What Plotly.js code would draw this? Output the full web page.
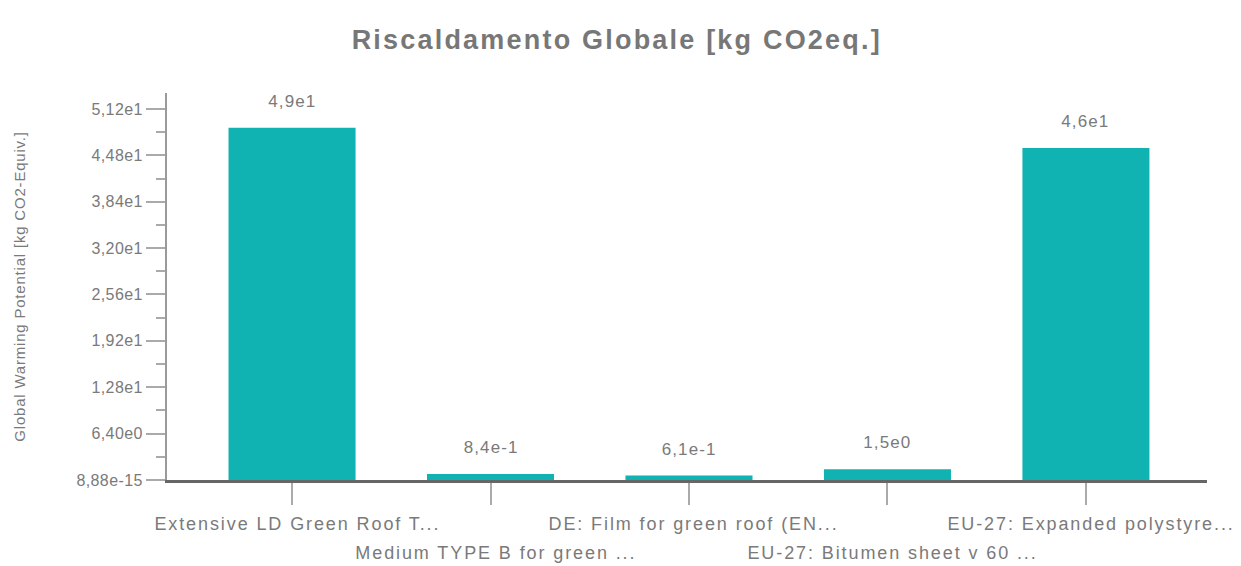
<!DOCTYPE html>
<html>
<head>
<meta charset="utf-8">
<script src="https://cdn.plot.ly/plotly-3.0.1.min.js"></script>
<style>
  html, body { margin: 0; padding: 0; background: #ffffff; }
  #chart { width: 1241px; height: 566px; }
  #chart .gtitle { letter-spacing: 2.2px; }
  #chart .annotation-text { letter-spacing: 1.1px; }
  #chart .cat-label .annotation-text { letter-spacing: 1.9px; }
  #chart .g-ytitle text { letter-spacing: 0.8px; }
  #chart .ytick text { letter-spacing: 0.4px; }
</style>
</head>
<body>
<div id="chart"></div>
<script>
// ---- data ----
var categories = [
  "Extensive LD Green Roof T...",
  "Medium TYPE B for green ...",
  "DE: Film for green roof (EN...",
  "EU-27: Bitumen sheet v 60 ...",
  "EU-27: Expanded polystyre..."
];
var values = [48.6, 0.84, 0.61, 1.5, 45.8];
var yTickVals = [0, 6.4, 12.8, 19.2, 25.6, 32.0, 38.4, 44.8, 51.2];
var yTickText = ["8,88e-15", "6,40e0", "1,28e1", "1,92e1", "2,56e1", "3,20e1", "3,84e1", "4,48e1", "5,12e1"];
var titleText = "Riscaldamento Globale [kg CO2eq.]";
var yTitleText = "Global Warming Potential [kg CO2-Equiv.]";

function fmt(v) {
  var s = v.toExponential(1);           // e.g. "4.9e+1"
  var parts = s.split("e");
  var exp = parseInt(parts[1], 10);
  return parts[0].replace(".", ",") + "e" + exp;
}

var fam = "Liberation Sans, Arial, sans-serif";
var grey = "#7a7a7a";

var annotations = [];
// value labels above bars
for (var i = 0; i < categories.length; i++) {
  annotations.push({
    xref: "x", yref: "y", x: categories[i], y: values[i],
    text: fmt(values[i]), showarrow: false,
    yanchor: "bottom", yshift: 15,
    font: { family: fam, size: 17, color: grey }
  });
}
var nValueLabels = annotations.length;
// staggered category labels
for (var j = 0; j < categories.length; j++) {
  annotations.push({
    xref: "x", yref: "paper", x: categories[j], y: 0,
    text: categories[j], showarrow: false,
    yanchor: "top", yshift: (j % 2 === 0) ? -32 : -61, xshift: 5,
    font: { family: fam, size: 18, color: grey }
  });
}

var trace = {
  type: "bar",
  x: categories,
  y: values,
  marker: { color: "#10b2b2" },
  hoverinfo: "x+y"
};

var layout = {
  width: 1241, height: 566,
  paper_bgcolor: "#ffffff", plot_bgcolor: "#ffffff",
  margin: { l: 167, r: 34, t: 93, b: 86 },
  bargap: 0.36,
  showlegend: false,
  title: {
    text: "<b>" + titleText + "</b>",
    xref: "container", x: 0.497, xanchor: "center",
    yref: "container", y: 0.93, yanchor: "middle",
    font: { family: fam, size: 27, color: "#777777" }
  },
  xaxis: {
    type: "category",
    range: [-0.63, 4.61],
    showline: true, linecolor: "#666666", linewidth: 3,
    ticks: "outside", ticklen: 22, tickwidth: 2, tickcolor: "#aaaaaa",
    showticklabels: false,
    showgrid: false, zeroline: false
  },
  yaxis: {
    range: [0, 53.4],
    showline: true, linecolor: "#9a9a9a", linewidth: 2,
    ticks: "outside", ticklen: 19, tickwidth: 2, tickcolor: "#aaaaaa",
    tickmode: "array", tickvals: yTickVals, ticktext: yTickText,
    tickfont: { family: fam, size: 16, color: grey },
    minor: { ticks: "outside", ticklen: 9, tickwidth: 2, tickcolor: "#aaaaaa", dtick: 3.2, showgrid: false },
    showgrid: false, zeroline: false,
    title: {
      text: yTitleText, standoff: 50,
      font: { family: fam, size: 15, color: grey }
    }
  },
  annotations: annotations
};

function tagCategoryLabels() {
  var groups = document.querySelectorAll("#chart .annotation");
  for (var k = 0; k < groups.length; k++) {
    if (k >= nValueLabels) groups[k].classList.add("cat-label");
  }
}

Plotly.newPlot("chart", [trace], layout, { displayModeBar: false }).then(function (gd) {
  tagCategoryLabels();
  gd.on("plotly_afterplot", tagCategoryLabels);
});
</script>
</body>
</html>
